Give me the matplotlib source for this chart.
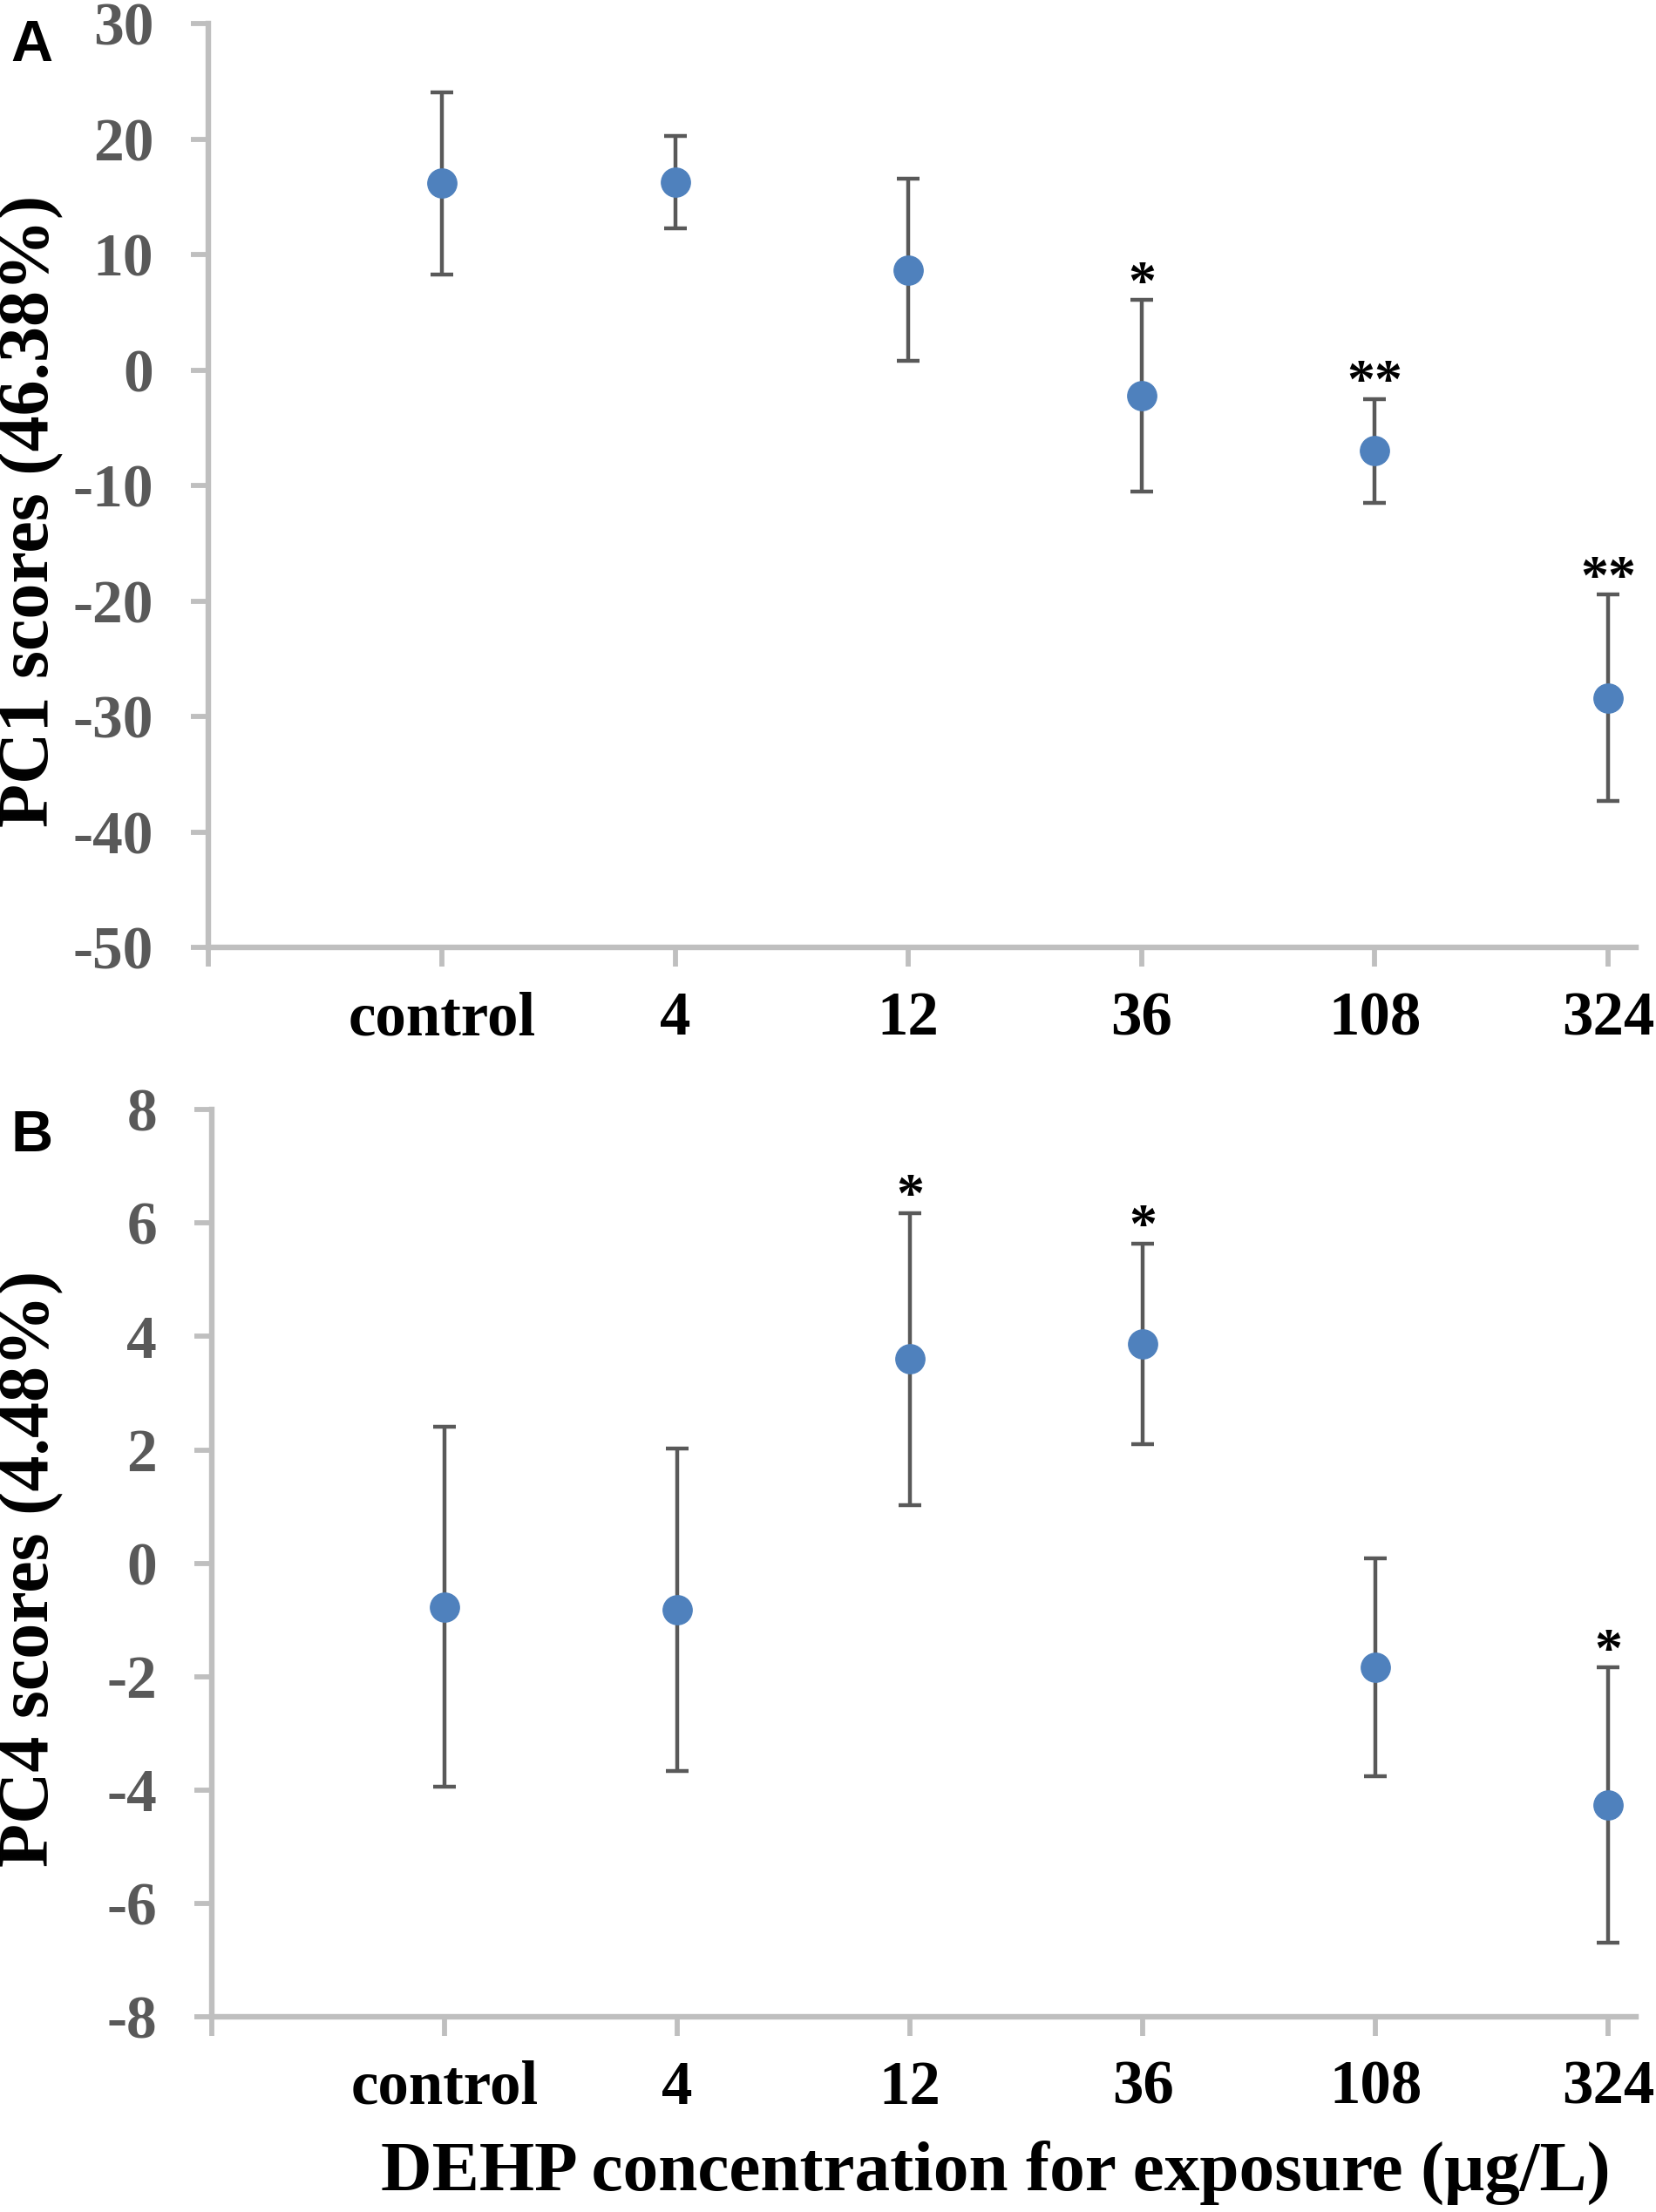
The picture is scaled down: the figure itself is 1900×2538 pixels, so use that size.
import numpy as np
import matplotlib
matplotlib.use("Agg")
import matplotlib.pyplot as plt

# ---- data ----
categories = ["control", "4", "12", "36", "108", "324"]

pc1_mean = [16.2, 16.3, 8.7, -2.2, -7.0, -28.4]
pc1_err = [7.9, 4.0, 7.9, 8.3, 4.5, 8.95]
pc1_marks = ["", "", "", "*", "**", "**"]
pc1_ticks = [-50, -40, -30, -20, -10, 0, 10, 20, 30]

pc4_mean = [-0.77, -0.82, 3.6, 3.87, -1.84, -4.27]
pc4_err = [3.18, 2.85, 2.58, 1.77, 1.92, 2.43]
pc4_marks = ["", "", "*", "*", "", "*"]
pc4_ticks = [-8, -6, -4, -2, 0, 2, 4, 6, 8]

SERIF = "Liberation Serif"
AXIS_GREY = "#BFBFBF"
DARK = "#595959"
BLUE = "#4F81BD"


def draw_panel(ax, mean, err, marks, yticks):
    x = np.arange(1, len(categories) + 1)
    ax.errorbar(x, mean, yerr=err, fmt="o", color=BLUE, markersize=24,
                markeredgecolor=BLUE, ecolor=DARK, elinewidth=3.2,
                capsize=9.5, capthick=3.2, zorder=3)
    for xi, m, e, s in zip(x, mean, err, marks):
        if s:
            ax.annotate(s, (xi, m + e), xytext=(0, 1), textcoords="offset points",
                        ha="center", va="baseline", fontsize=46,
                        family=SERIF, fontweight="bold", color="black")

    ax.set_xlim(0, 6.12)
    ax.set_ylim(yticks[0], yticks[-1])
    ax.set_yticks(yticks)
    ax.set_yticklabels([str(t) for t in yticks], family=SERIF,
                       fontweight="bold", fontsize=50, color=DARK)
    ax.set_xticks(np.arange(0, len(categories) + 1))
    ax.set_xticklabels([""] + categories, family=SERIF, fontweight="bold",
                       fontsize=51, color="black")

    for side in ("top", "right"):
        ax.spines[side].set_visible(False)
    for side in ("left", "bottom"):
        ax.spines[side].set_color(AXIS_GREY)
        ax.spines[side].set_linewidth(4.6)
    ax.tick_params(axis="y", direction="out", length=14.5, width=4.2,
                   color=AXIS_GREY, pad=31)
    ax.tick_params(axis="x", direction="out", length=16, width=4.2,
                   color=AXIS_GREY, pad=20)


fig = plt.figure(figsize=(19, 25.38), dpi=100)

ax_a = fig.add_axes([0.126, 0.5717, 0.862, 0.4175])
draw_panel(ax_a, pc1_mean, pc1_err, pc1_marks, pc1_ticks)

ax_b = fig.add_axes([0.128, 0.0883, 0.860, 0.410])
draw_panel(ax_b, pc4_mean, pc4_err, pc4_marks, pc4_ticks)

fig.text(0.019, 0.769, "PC1 scores (46.38%)", rotation=90, ha="center",
         va="center", family=SERIF, fontweight="bold", fontsize=59)
fig.text(0.019, 0.291, "PC4 scores (4.48%)", rotation=90, ha="center",
         va="center", family=SERIF, fontweight="bold", fontsize=59)
fig.text(0.601, 0.0177, "DEHP concentration for exposure (\u03bcg/L)",
         ha="center", va="center", family=SERIF, fontweight="bold", fontsize=58.5)

fig.text(0.019, 0.9915, "A", ha="center", va="top", family="Liberation Sans",
         fontweight="bold", fontsize=48)
fig.text(0.019, 0.4985, "B", ha="center", va="top", family="Liberation Sans",
         fontweight="bold", fontsize=48)

fig.savefig("out.png", dpi=100)
